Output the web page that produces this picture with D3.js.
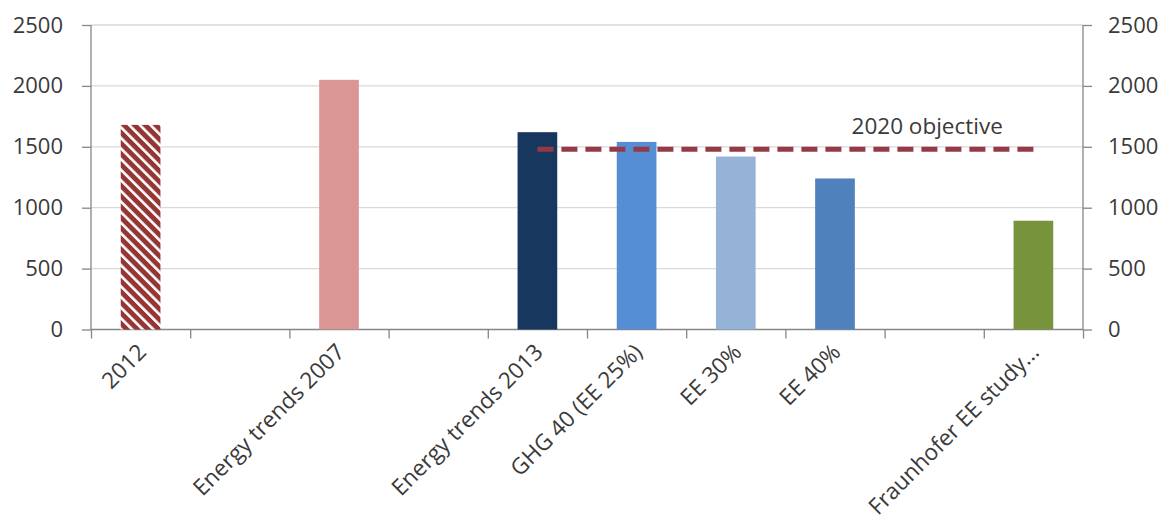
<!DOCTYPE html>
<html>
<head>
<meta charset="utf-8">
<script src="https://cdn.jsdelivr.net/npm/d3@7"></script>
<style>
  body { margin: 0; background: #fff; }
  svg text { font-family: "Open Sans", sans-serif; fill: #3a3a3a; }
</style>
</head>
<body>
<div id="chart"></div>
<script>
// data
const categories = ["2012", "", "Energy trends 2007", "", "Energy trends 2013",
  "GHG 40 (EE 25%)", "EE 30%", "EE 40%", "", "Fraunhofer EE study..."]
const values = [1680, null, 2050, null, 1620, 1540, 1420, 1240, null, 893]
const barColors = ["url(#hatch)", null, "#d99694", null, "#17375e",
  "#558ed5", "#95b3d7", "#4f81bd", null, "#77933c"]
const objective = [null, null, null, null, 1480, 1480, 1480, 1480, 1480, 1480]
const objectiveLabel = "2020 objective"
const yTicks = [0, 500, 1000, 1500, 2000, 2500]

// dimensions
const margin = { top: 25, right: 86, bottom: 190.5, left: 91 }
const width = 1169 - margin.left - margin.right
const height = 520 - margin.top - margin.bottom

const svg = d3.select("#chart")
  .append("svg")
    .attr("width", 1169)
    .attr("height", 520)

// hatch pattern for the 2012 bar
svg.append("defs")
  .append("pattern")
    .attr("id", "hatch")
    .attr("patternUnits", "userSpaceOnUse")
    .attr("width", 7.5)
    .attr("height", 7.5)
    .attr("patternTransform", "rotate(-45)")
  .call(p => {
    p.append("rect").attr("width", 7.5).attr("height", 7.5).attr("fill", "#943634")
    p.append("rect").attr("width", 2.6).attr("height", 7.5).attr("fill", "#fff")
  })

const chart = svg.append("g")
  .attr("transform", "translate(" + margin.left + "," + margin.top + ")")

// scales
const x = d3.scaleBand()
  .domain(d3.range(categories.length))
  .range([0, width])
  .padding(0)

const slots = d3.scaleLinear()
  .domain([0, categories.length])
  .range([0, width])

const y = d3.scaleLinear()
  .domain([0, 2500])
  .range([height, 0])

// gridlines
chart.append("g")
  .selectAll("line")
  .data(yTicks.filter(d => d > 0))
  .join("line")
    .attr("x1", 0)
    .attr("x2", width)
    .attr("y1", d => y(d))
    .attr("y2", d => y(d))
    .attr("stroke", "#d9d9d9")
    .attr("stroke-width", 1.3)

// left and right axes
const leftAxis = chart.append("g")
  .call(d3.axisLeft(y).tickValues(yTicks).tickSize(9).tickPadding(19).tickFormat(d3.format("d")))
const rightAxis = chart.append("g")
  .attr("transform", `translate(${width},0)`)
  .call(d3.axisRight(y).tickValues(yTicks).tickSize(9).tickPadding(16).tickFormat(d3.format("d")))

// x axis with ticks between the categories
const bottomAxis = chart.append("g")
  .attr("transform", `translate(0,${height})`)
  .call(d3.axisBottom(slots).ticks(categories.length).tickSize(9).tickFormat(""))

for (const a of [leftAxis, rightAxis, bottomAxis]) {
  a.select(".domain").attr("stroke", "#868686").attr("stroke-width", 1.3)
  a.selectAll(".tick line").attr("stroke", "#868686").attr("stroke-width", 1.3)
  a.selectAll(".tick text").style("font-size", "22px").attr("fill", "#3a3a3a")
}
leftAxis.select(".domain").attr("d", `M0,${height}V0`)
rightAxis.select(".domain").attr("d", `M0,${height}V0`)
bottomAxis.select(".domain").attr("d", `M0,0H${width}`)

// category labels
chart.append("g")
  .selectAll("text")
  .data(categories.map((c, i) => ({ c, i })).filter(d => d.c !== ""))
  .join("text")
    .attr("transform", d => `translate(${x(d.i) + x.bandwidth() / 2 + 7},${height + 24}) rotate(-45)`)
    .attr("text-anchor", "end")
    .style("font-size", "22.5px")
    .text(d => d.c)

// bars
const barW = x.bandwidth() * 0.4
chart.append("g")
  .selectAll("rect")
  .data(values.map((v, i) => ({ v, i })).filter(d => d.v !== null))
  .join("rect")
    .attr("x", d => x(d.i) + (x.bandwidth() - barW) / 2)
    .attr("width", barW)
    .attr("y", d => y(d.v))
    .attr("height", d => height - y(d.v))
    .attr("fill", d => barColors[d.i])

// 2020 objective line
chart.append("path")
  .datum(objective.map((v, i) => ({ v, i })))
  .attr("fill", "none")
  .attr("stroke", "#953a45")
  .attr("stroke-width", 5)
  .attr("stroke-dasharray", "16,8")
  .attr("d", d3.line()
    .defined(d => d.v !== null)
    .x(d => x(d.i) + x.bandwidth() / 2)
    .y(d => y(d.v)))

chart.append("text")
  .attr("x", x(8) + x.bandwidth() / 2 - 7)
  .attr("y", y(1480) - 15)
  .attr("text-anchor", "middle")
  .style("font-size", "22.5px")
  .text(objectiveLabel)
</script>
</body>
</html>
